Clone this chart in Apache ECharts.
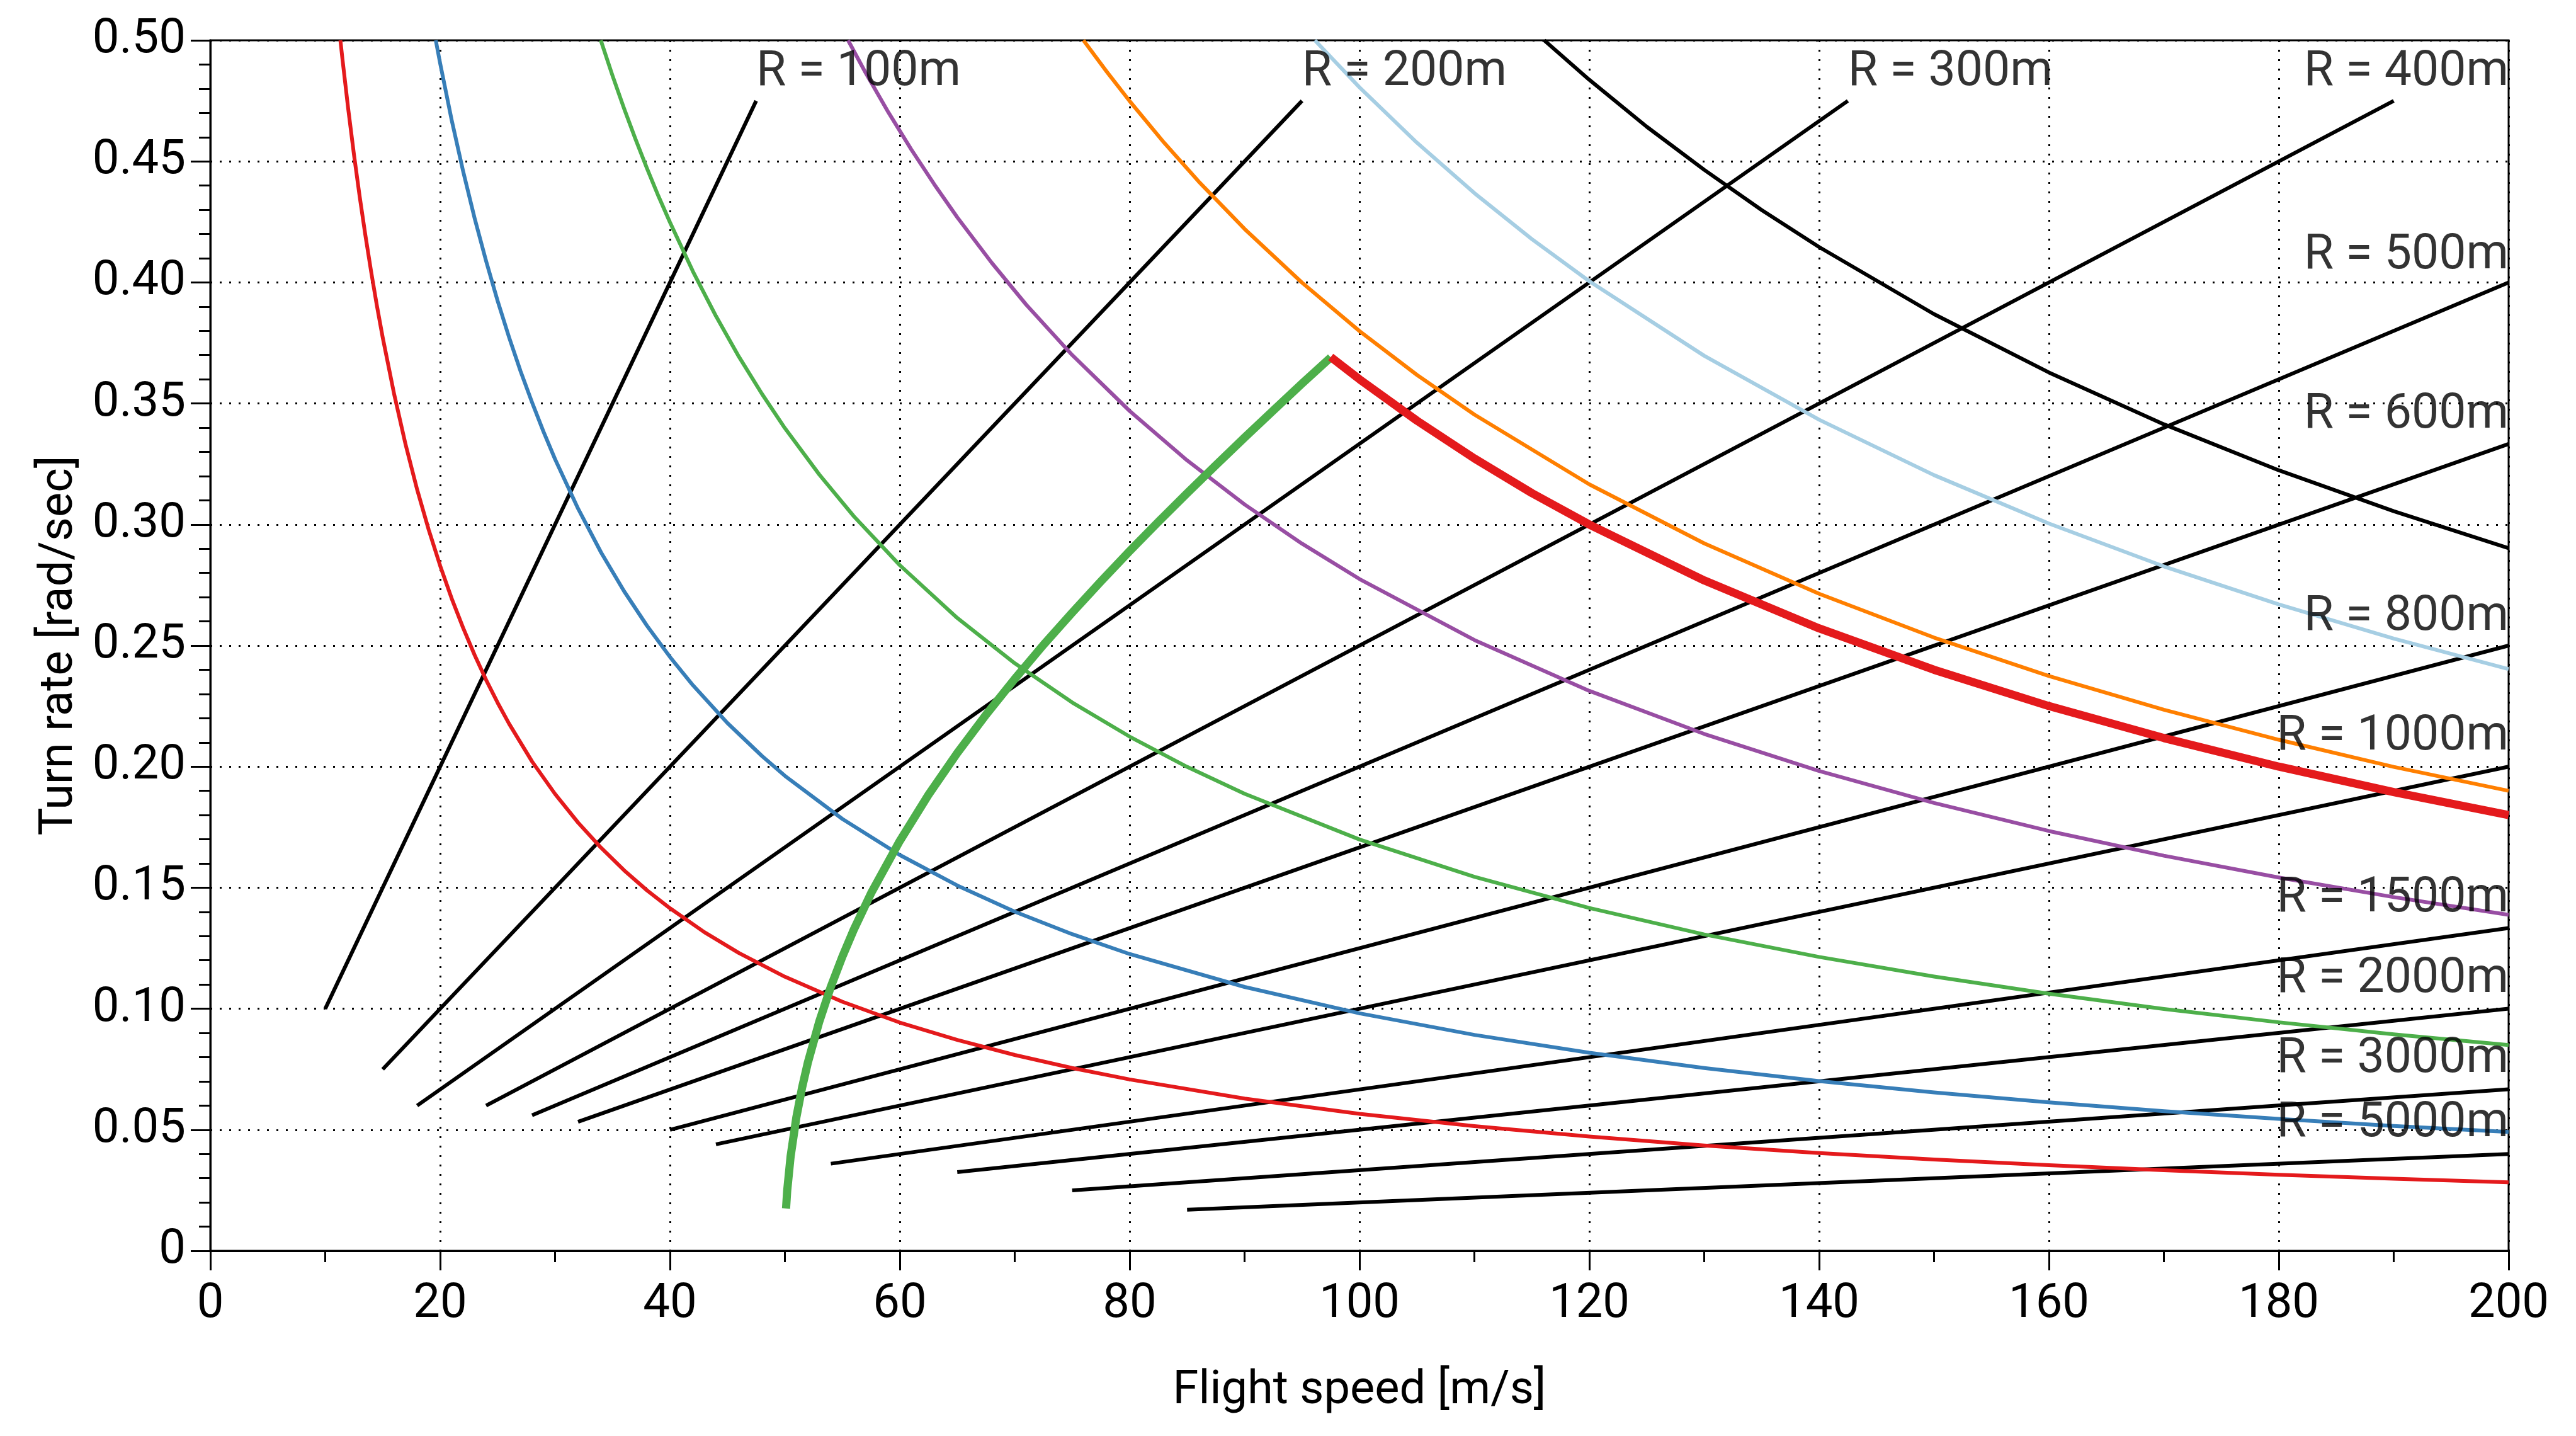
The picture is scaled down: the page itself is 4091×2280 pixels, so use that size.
<!DOCTYPE html>
<html>
<head>
<meta charset="utf-8">
<script src="https://cdn.jsdelivr.net/npm/echarts@6/dist/echarts.min.js"></script>
<style>
html,body{margin:0;padding:0;background:#fff;}
#chart{width:4091px;height:2280px;}
</style>
</head>
<body>
<div id="chart"></div>
<script>
// ---------- data ----------
var xTicks = [0, 20, 40, 60, 80, 100, 120, 140, 160, 180, 200];
var yTicks = [0, 0.05, 0.10, 0.15, 0.20, 0.25, 0.30, 0.35, 0.40, 0.45, 0.50];

// constant-radius lines: [speed, turn rate] endpoints
var radiusNames = ["R = 100m","R = 200m","R = 300m","R = 400m","R = 500m","R = 600m","R = 800m","R = 1000m","R = 1500m","R = 2000m","R = 3000m","R = 5000m"];
var radiusLines = [
  [[10, 0.100], [47.5, 0.475]],
  [[15, 0.075], [95, 0.475]],
  [[18, 0.060], [142.5, 0.475]],
  [[24, 0.060], [190, 0.475]],
  [[28, 0.056], [200, 0.400]],
  [[32, 0.0533], [200, 0.3333]],
  [[40, 0.050], [200, 0.250]],
  [[44, 0.044], [200, 0.200]],
  [[54, 0.036], [200, 0.1333]],
  [[65, 0.0325], [200, 0.100]],
  [[75, 0.025], [200, 0.0667]],
  [[85, 0.017], [200, 0.040]]
];
// label anchors (speed, turn rate) and side
var labelX = [47.5, 95, 142.5, 200, 200, 200, 200, 200, 200, 200, 200, 200];
var labelY = [0.4865, 0.4865, 0.4865, 0.4865, 0.4108, 0.345, 0.2616, 0.212, 0.1453, 0.112, 0.0789, 0.0524];
var labelLeftAligned = [true, true, true, false, false, false, false, false, false, false, false, false];

// curves of constant load
var curveRed = [[11.32,0.5],[11.5,0.4922],[12,0.4717],[12.5,0.4528],[13,0.4354],[13.5,0.4193],[14,0.4043],[14.5,0.3903],[15,0.3773],[16,0.3538],[17,0.3329],[18,0.3144],[19,0.2979],[20,0.283],[21,0.2695],[22,0.2573],[23,0.2461],[24,0.2358],[25,0.2264],[26,0.2177],[28,0.2021],[30,0.1887],[32,0.1769],[34,0.1665],[36,0.1572],[38,0.1489],[40,0.1415],[43,0.1316],[46,0.123],[50,0.1132],[55,0.1029],[60,0.0943],[65,0.0871],[70,0.0809],[75,0.0755],[80,0.0708],[90,0.0629],[100,0.0566],[110,0.0515],[120,0.0472],[130,0.0435],[140,0.0404],[150,0.0377],[160,0.0354],[170,0.0333],[180,0.0314],[190,0.0298],[200,0.0283]];
var curveBlue = [[19.62,0.5],[20,0.4905],[21,0.4671],[22,0.4459],[23,0.4265],[24,0.4088],[25,0.3924],[26,0.3773],[27,0.3633],[28,0.3504],[29,0.3383],[30,0.327],[32,0.3066],[34,0.2885],[36,0.2725],[38,0.2582],[40,0.2453],[42,0.2336],[45,0.218],[48,0.2044],[50,0.1962],[55,0.1784],[60,0.1635],[65,0.1509],[70,0.1401],[75,0.1308],[80,0.1226],[90,0.109],[100,0.0981],[110,0.0892],[120,0.0818],[130,0.0755],[140,0.0701],[150,0.0654],[160,0.0613],[170,0.0577],[180,0.0545],[190,0.0516],[200,0.0491]];
var curveGreen = [[33.98,0.5],[35,0.4854],[36,0.4719],[37,0.4592],[38,0.4471],[39,0.4356],[40,0.4248],[42,0.4045],[44,0.3861],[46,0.3693],[48,0.354],[50,0.3398],[53,0.3206],[56,0.3034],[60,0.2832],[65,0.2614],[70,0.2427],[75,0.2265],[80,0.2124],[85,0.1999],[90,0.1888],[100,0.1699],[110,0.1545],[120,0.1416],[130,0.1307],[140,0.1214],[150,0.1133],[160,0.1062],[170,0.0999],[180,0.0944],[190,0.0894],[200,0.085]];
var curvePurple = [[55.5,0.5],[57,0.4868],[59,0.4703],[61,0.4549],[63,0.4405],[65,0.4269],[68,0.4081],[71,0.3908],[75,0.37],[80,0.3469],[85,0.3265],[90,0.3083],[95,0.2921],[100,0.2775],[110,0.2523],[120,0.2313],[130,0.2135],[140,0.1982],[150,0.185],[160,0.1734],[170,0.1632],[180,0.1542],[190,0.1461],[200,0.1388]];
var curveOrange = [[75.98,0.5],[78,0.4871],[80,0.4749],[83,0.4577],[86,0.4417],[90,0.4221],[95,0.3999],[100,0.3799],[105,0.3618],[110,0.3454],[120,0.3166],[130,0.2922],[140,0.2714],[150,0.2533],[160,0.2374],[170,0.2235],[180,0.2111],[190,0.1999],[200,0.19]];
var curveLightBlue = [[96.12,0.5],[100,0.4806],[105,0.4577],[110,0.4369],[115,0.4179],[120,0.4005],[130,0.3697],[140,0.3433],[150,0.3204],[160,0.3004],[170,0.2827],[180,0.267],[190,0.2529],[200,0.2403]];
var curveBlack = [[116.08,0.5],[120,0.4837],[125,0.4643],[130,0.4465],[135,0.4299],[140,0.4146],[150,0.3869],[160,0.3628],[170,0.3414],[180,0.3224],[190,0.3055],[200,0.2902]];

// envelope (thick lines)
var envelopeGreen = [[50.1,0.0175],[50.2,0.0248],[50.5,0.0391],[51,0.0552],[51.5,0.0675],[52,0.0778],[53,0.0948],[54,0.1091],[55,0.1215],[56,0.1327],[57.5,0.1477],[60,0.1693],[62.5,0.1884],[65,0.2056],[67.5,0.2214],[70,0.2362],[72.5,0.2503],[75,0.2636],[77.5,0.2765],[80,0.289],[82.5,0.3011],[85,0.3129],[87.5,0.3245],[90,0.3359],[92.5,0.3471],[95,0.3582],[97.5,0.369]];
var envelopeRed = [[97.5,0.3692],[100,0.36],[105,0.3429],[110,0.3273],[115,0.313],[120,0.3],[130,0.2769],[140,0.2571],[150,0.24],[160,0.225],[170,0.2118],[180,0.2],[190,0.1895],[200,0.18]];

// ---------- chart ----------
var FONT = 'Roboto, "Noto Sans", sans-serif';
var chart = echarts.init(document.getElementById('chart'), null, {renderer: 'canvas'});

var series = [];
radiusLines.forEach(function (seg, i) {
  series.push({
    name: radiusNames[i], type: 'line', data: seg, symbol: 'none', silent: true,
    lineStyle: {color: '#000', width: 6}, z: 2
  });
});
function curve(name, data, color, width, z) {
  return {name: name, type: 'line', data: data, symbol: 'none', silent: true,
    smooth: false, lineStyle: {color: color, width: width, join: 'round'}, z: z};
}
series.push(curve('c1', curveRed, '#e41a1c', 6, 3));
series.push(curve('c2', curveBlue, '#377eb8', 6, 3));
series.push(curve('c3', curveGreen, '#4daf4a', 6, 3));
series.push(curve('c4', curvePurple, '#984ea3', 6, 3));
series.push(curve('c5', curveOrange, '#ff7f00', 6, 3));
series.push(curve('c6', curveLightBlue, '#a6cee3', 6, 3));
series.push(curve('c7', curveBlack, '#000000', 6, 3));
series.push(curve('envG', envelopeGreen, '#4daf4a', 13, 4));
series.push(curve('envR', envelopeRed, '#e41a1c', 13, 4));

series.push({
  type: 'scatter', symbolSize: 0, silent: true, z: 5,
  data: radiusNames.map(function (n, i) {
    return {
      value: [labelX[i], labelY[i]], name: n,
      label: {show: true, formatter: n, position: labelLeftAligned[i] ? 'right' : 'left',
        distance: 0, color: '#000', fontSize: 77, fontFamily: FONT}
    };
  })
});

chart.setOption({
  animation: false,
  backgroundColor: '#fff',
  grid: {left: 334, right: 107, top: 64, bottom: 294, show: true,
    borderColor: '#000', borderWidth: 3, backgroundColor: 'transparent'},
  xAxis: {
    type: 'value', min: xTicks[0], max: xTicks[xTicks.length - 1], interval: 20,
    name: 'Flight speed [m/s]', nameLocation: 'middle', nameGap: 186,
    nameTextStyle: {fontSize: 74, color: '#000', fontFamily: FONT},
    axisLine: {show: true, lineStyle: {color: '#000', width: 3}},
    axisTick: {show: true, length: 31, lineStyle: {color: '#000', width: 3}},
    minorTick: {show: true, splitNumber: 2, length: 18, lineStyle: {color: '#000', width: 3}},
    splitLine: {show: true, lineStyle: {color: '#000', width: 3, type: [3, 12]}},
    axisLabel: {fontSize: 76, color: '#000', margin: 48, fontFamily: FONT,
      formatter: function (v) { return String(Math.round(v)); }}
  },
  yAxis: {
    type: 'value', min: yTicks[0], max: yTicks[yTicks.length - 1], interval: 0.05,
    name: 'Turn rate [rad/sec]', nameLocation: 'middle', nameGap: 202, nameRotate: 90,
    nameTextStyle: {fontSize: 74, color: '#000', fontFamily: FONT},
    axisLine: {show: true, lineStyle: {color: '#000', width: 3}},
    axisTick: {show: true, length: 31, lineStyle: {color: '#000', width: 3}},
    minorTick: {show: true, splitNumber: 5, length: 18, lineStyle: {color: '#000', width: 3}},
    splitLine: {show: true, lineStyle: {color: '#000', width: 3, type: [3, 12]}},
    axisLabel: {fontSize: 76, color: '#000', margin: 39, fontFamily: FONT,
      formatter: function (v) { return Math.abs(v) < 1e-9 ? '0' : v.toFixed(2); }}
  },
  series: series
});
</script>
</body>
</html>
